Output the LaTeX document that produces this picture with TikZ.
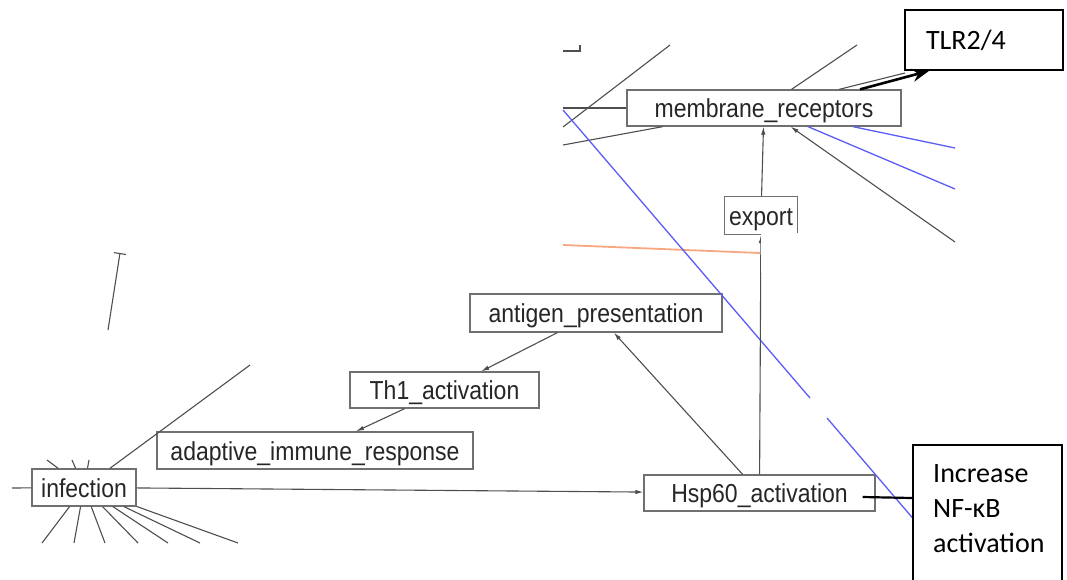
\documentclass[tikz,border=0pt]{standalone}
\usepackage{fontspec}
\usepackage{graphicx}
\newfontfamily\graphfont{Liberation Sans}
\newfontfamily\notefont{Carlito}
\usetikzlibrary{arrows.meta}
\definecolor{boxgray}{HTML}{707070}
\definecolor{edgegray}{HTML}{4E4E4E}
\definecolor{linkblue}{HTML}{5C5CF6}
\definecolor{linkorange}{HTML}{F8A880}
% narrow labels of the network view
\newcommand{\glabel}[1]{\scalebox{0.885}[1]{#1}}

\begin{document}
\begin{tikzpicture}[x=1pt,y=-1pt,>={Latex[length=8pt,width=4.5pt]},
    gnode/.style={draw=boxgray,line width=1.3pt,fill=white,inner sep=0pt,text=black!85,
      text height=19.5pt,text depth=0pt,font=\graphfont\fontsize{26}{29}\selectfont},
    edge/.style={draw=edgegray,line width=1.1pt},
    bluelink/.style={draw=linkblue,line width=1.3pt},
    note/.style={draw=black,line width=1.6pt,fill=white,inner sep=0pt},
    notetext/.style={inner sep=0pt,align=left,font=\notefont\fontsize{28}{35}\selectfont}]
  \useasboundingbox (0,0) rectangle (1067,579);
  \clip (0,0) rectangle (1067,579);

  % network nodes
  \node[gnode,minimum width=274pt,minimum height=36pt] (membrane) at (764,108) {\glabel{membrane\_receptors}};
  \node[gnode,minimum width=73pt,minimum height=38pt] (export) at (761,215.5) {\glabel{export}};
  \node[gnode,minimum width=252pt,minimum height=38pt] (antigen) at (596,313) {\glabel{antigen\_presentation}};
  \node[gnode,minimum width=189pt,minimum height=36pt] (th1) at (444.5,390) {\glabel{Th1\_activation}};
  \node[gnode,minimum width=316pt,minimum height=37pt] (adaptive) at (315,450.5) {\glabel{adaptive\_immune\_response}};
  \node[gnode,minimum width=104pt,minimum height=37pt] (infection) at (84,487.5) {\glabel{infection}};
  \node[gnode,minimum width=231pt,minimum height=36pt] (hsp) at (759.5,493) {\glabel{Hsp60\_activation}};

  % loose ends of cut edges
  \coordinate (mw) at (563,108);
  \coordinate (msw) at (563,145);
  \coordinate (mn) at (857,45);
  \coordinate (mtlr) at (905,73);
  \coordinate (mse) at (955,242);
  \coordinate (mb1) at (955,148);
  \coordinate (mb2) at (955,189);
  \coordinate (tfoot) at (108,330);
  \coordinate (ttop) at (120,253);

  % edges around membrane_receptors
  \draw[edge] (563,127) -- (670,45);
  \draw[edge] (563,51) -- (580,51) -- (580,45);
  \draw[edge] (membrane) -- (mw);
  \draw[edge] (membrane) -- (msw);
  \draw[edge] (membrane) -- (mn);
  \draw[edge] (membrane) -- (mtlr);
  \draw[edge,->] (mse) -- (membrane);
  \draw[bluelink] (membrane) -- (mb1);
  \draw[bluelink] (membrane) -- (mb2);
  \draw[edge,->] (export) -- (membrane);

  % long links crossing the view
  \draw[draw=linkorange,line width=1.8pt] (563,245) -- (760,253);
  \draw[bluelink] (563,110) -- (810,398);
  \draw[bluelink] (827,418) -- (940,550);

  % edges of the activation chain
  \draw[edge,->] (hsp) -- (export);
  \draw[edge,->] (hsp) -- (antigen);
  \draw[edge,->] (antigen) -- (th1);
  \draw[edge,->] (th1) -- (adaptive);
  \draw[edge,->] (infection) -- (hsp);

  % stubs out of infection
  \foreach \p in {(12,488),(47,460),(72,460),(89,460),(250,365),
      (42,543),(74,543),(105,543),(138,543),(168,543),(200,543),(238,543)}
    \draw[edge] (infection) -- \p;
  \draw[edge,-{Bar[width=12pt]}] (tfoot) -- (ttop);

  % blank patch below export
  \fill[white] (760.6,233) rectangle (880,273);

  % annotations
  \node[note,minimum width=158pt,minimum height=60pt,text width=116pt,inner xsep=21pt,
    align=left,font=\notefont\fontsize{28}{35}\selectfont] (tlr) at (984,40) {TLR2/4};
  \draw[line width=2.6pt,-{Stealth[length=17pt,width=13pt]}]
    ([xshift=96pt]membrane.north) -- ([xshift=25pt]tlr.south west);

  \node[note,anchor=north west,minimum width=149pt,minimum height=170pt] (nfkb) at (912,444) {};
  \node[notetext,anchor=north west] (nfkbtext) at (933,464) {Increase\\NF-κB\\activation};
  \draw[line width=2.2pt] ([xshift=-13pt,yshift=-4pt]hsp.east) -- ([yshift=-54pt]nfkb.north west);
\end{tikzpicture}
\end{document}
